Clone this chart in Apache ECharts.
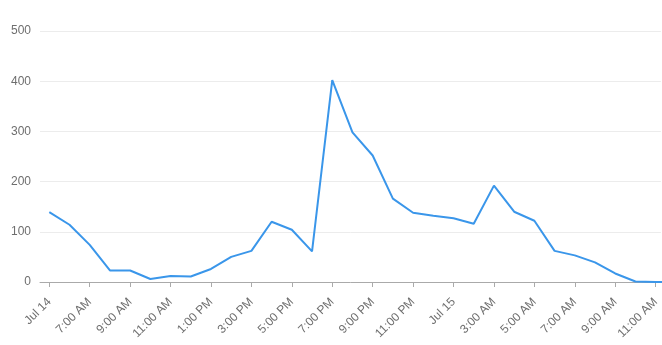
<!DOCTYPE html>
<html>
<head>
<meta charset="utf-8">
<script src="https://cdn.jsdelivr.net/npm/echarts@6/dist/echarts.min.js"></script>
<style>html,body{margin:0;padding:0;background:#fff}#c{width:662px;height:345px}</style>
</head>
<body>
<div id="c"></div>
<script>
// hourly values, hour 0 = first tick ("Jul 14")
const values = [139, 114, 74, 23, 23, 6, 12, 11, 26, 50, 62, 120, 104, 61, 402, 298, 252, 166, 138, 132, 127, 116, 192, 140, 122, 62, 53, 39, 17, 1, 0, 0];
const tickLabels = ['Jul 14', '7:00 AM', '9:00 AM', '11:00 AM', '1:00 PM', '3:00 PM', '5:00 PM', '7:00 PM', '9:00 PM', '11:00 PM', 'Jul 15', '3:00 AM', '5:00 AM', '7:00 AM', '9:00 AM', '11:00 AM'];
const tickHours = tickLabels.map((_, i) => i * 2);
const yTicks = [0, 100, 200, 300, 400, 500];

const chart = echarts.init(document.getElementById('c'), null, {renderer: 'canvas'});
chart.setOption({
  animation: false,
  grid: {left: 40, right: 0, top: 31, bottom: 63, containLabel: false},
  xAxis: {
    type: 'value',
    min: -0.46,
    max: 30.26,
    axisLine: {show: true, lineStyle: {color: '#aaaaaa', width: 1}},
    axisTick: {show: true, customValues: tickHours, length: 5, lineStyle: {color: '#aaaaaa'}},
    splitLine: {show: false},
    axisLabel: {
      customValues: tickHours,
      rotate: 45,
      color: '#6e6e6e',
      fontSize: 12,
      fontFamily: 'Liberation Sans, Arial, sans-serif',
      margin: 18,
      formatter: v => tickLabels[Math.round(v / 2)] || ''
    }
  },
  yAxis: {
    type: 'value',
    min: yTicks[0],
    max: yTicks[yTicks.length - 1],
    interval: 100,
    axisLine: {show: false},
    axisTick: {show: false},
    splitLine: {lineStyle: {color: '#ececec', width: 1}},
    axisLabel: {color: '#6e6e6e', fontSize: 12, fontFamily: 'Liberation Sans, Arial, sans-serif', margin: 9}
  },
  series: [{
    type: 'line',
    data: values.map((v, i) => [i, v]),
    showSymbol: false,
    clip: true,
    lineStyle: {color: '#3a96ea', width: 2},
    itemStyle: {color: '#3a96ea'}
  }]
});
</script>
</body>
</html>
